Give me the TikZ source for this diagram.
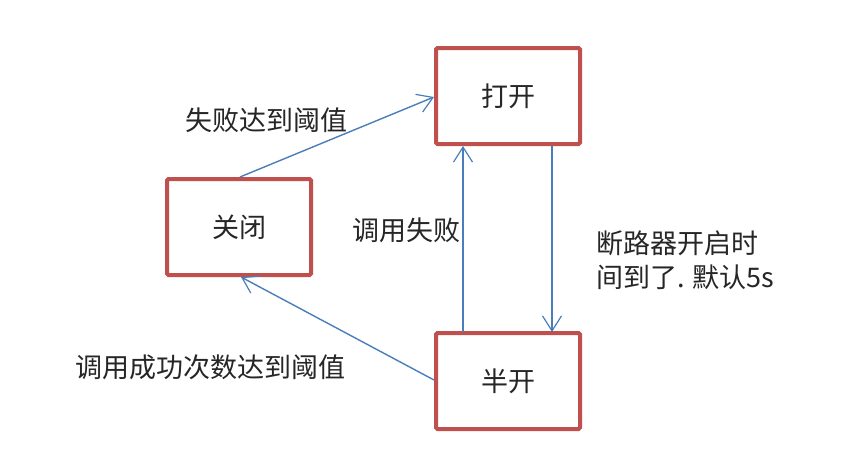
\documentclass[tikz,border=0pt]{standalone}
\usepackage{fontspec}
\setmainfont{Noto Sans CJK SC}
\usetikzlibrary{arrows.meta}
\definecolor{boxred}{HTML}{C0504D}
\definecolor{lineblue}{HTML}{4A7EBB}
\definecolor{txt}{HTML}{262626}
\begin{document}
\begin{tikzpicture}[x=1pt,y=-1pt,
  statebox/.style={draw=boxred,line width=4pt,rounded corners=1.5pt,minimum width=144pt,minimum height=96pt,inner sep=0pt,font=\fontsize{27}{30}\selectfont,text=txt},
  conn/.style={draw=lineblue,line width=1.4pt,-{Straight Barb[length=15pt,width=19pt,line width=1.2pt]}},
  lbl/.style={font=\fontsize{27}{34}\selectfont,text=txt,inner sep=0pt}]
\useasboundingbox[fill=white] (0,0) rectangle (859,453);
\node[statebox] (open) at (508,96) {打开};
\node[statebox] (closed) at (239,227) {关闭};
\node[statebox] (half) at (508,381) {半开};
\coordinate (c1) at (240,177);
\coordinate (o1) at (434,97);
\coordinate (o2) at (463,146);
\coordinate (o3) at (552,146);
\coordinate (h2) at (463,332);
\coordinate (h3) at (552,332);
\coordinate (h1) at (434,380);
\coordinate (c2) at (241,277);
\draw[conn] (c1) -- (o1);
\draw[conn] (h2) -- (o2);
\draw[conn] (o3) -- (h3);
\draw[conn] (h1) -- (c2);
\node[lbl] (l1) at (266,120) {失败达到阈值};
\node[lbl] (l2) at (406,230) {调用失败};
\node[lbl] (l3) at (210,367) {调用成功次数达到阈值};
\node[lbl,anchor=west,align=left] (l4) at (596,260) {断路器开启时\\间到了. 默认5s};
\end{tikzpicture}
\end{document}
